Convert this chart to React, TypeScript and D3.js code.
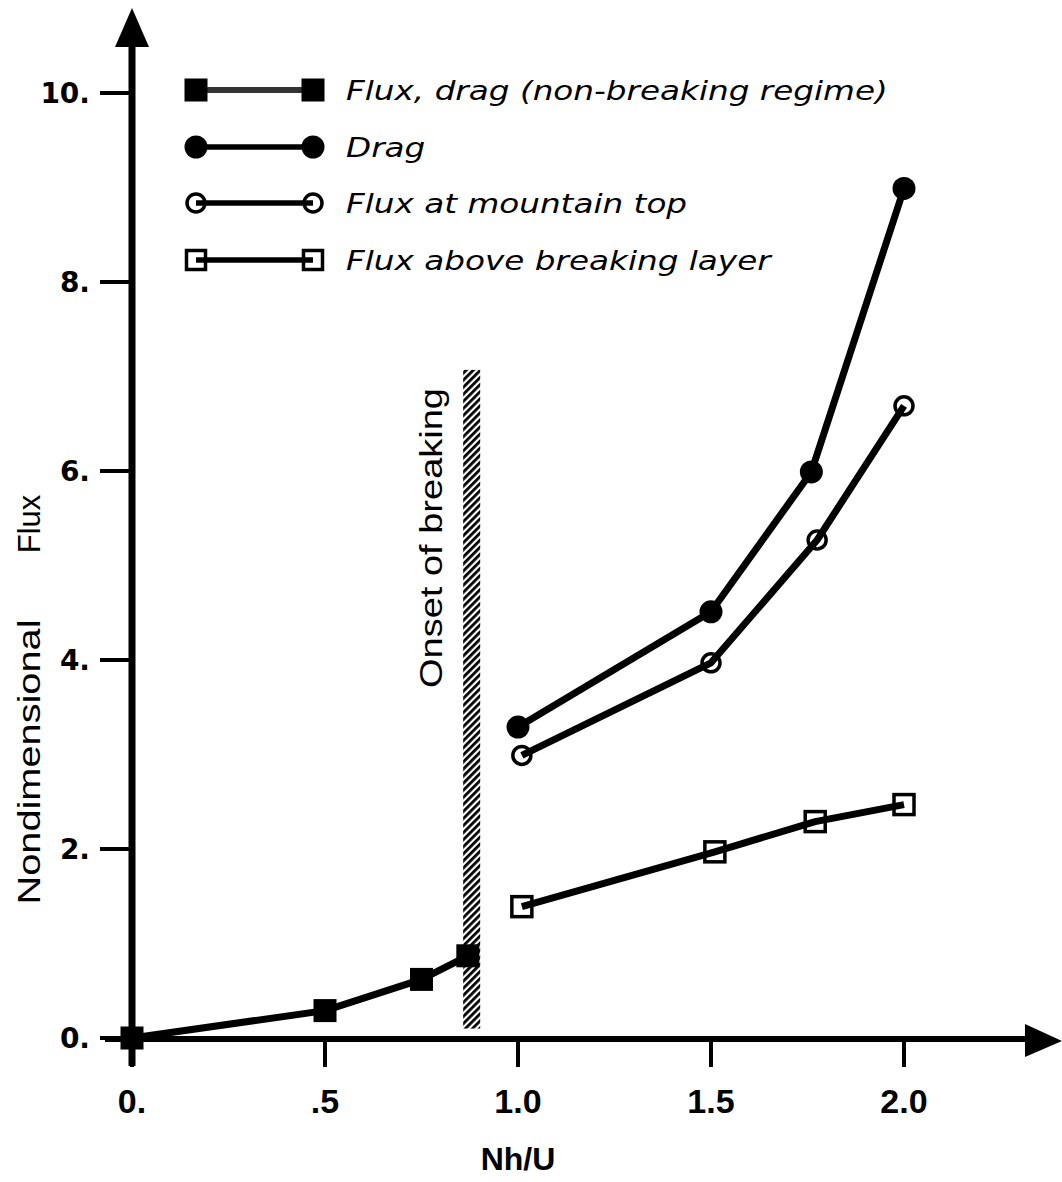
import React from 'react';
import * as d3 from 'd3';

// non-breaking regime (flux = drag)
const nonBreakX = [0, 0.5, 0.75, 0.87];
const nonBreakY = [0, 0.29, 0.62, 0.87];

// breaking regime
const dragX = [1.0, 1.5, 1.76, 2.0];
const dragY = [3.29, 4.51, 5.99, 8.99];
const topFluxX = [1.01, 1.5, 1.775, 2.0];
const topFluxY = [2.99, 3.97, 5.27, 6.69];
const aboveFluxX = [1.01, 1.51, 1.77, 2.0];
const aboveFluxY = [1.39, 1.97, 2.29, 2.47];

const onsetX = 0.88;
const onsetRange = [0.1, 7.07];

const xTicks = [0, 0.5, 1.0, 1.5, 2.0];
const xTickLabels = ['0.', '.5', '1.0', '1.5', '2.0'];
const yTicks = [0, 2, 4, 6, 8, 10];
const yTickLabels = ['0.', '2.', '4.', '6.', '8.', '10.'];

const legendLabels = [
  'Flux, drag (non-breaking regime)',
  'Drag',
  'Flux at mountain top',
  'Flux above breaking layer',
];

const W = 1062;
const H = 1182;

const x = d3.scaleLinear().domain([0, 2]).range([132, 904]);
const y = d3.scaleLinear().domain([0, 10]).range([1038, 93]);

const toPts = (xs: number[], ys: number[]) => xs.map((v, i) => [x(v), y(ys[i])] as [number, number]);

const line = d3.line();

const Marker = ({ kind, cx, cy, big = true }: { kind: string; cx: number; cy: number; big?: boolean }) => {
  if (kind === 'fsq') {
    const s = 23;
    return <rect x={cx - s / 2} y={cy - s / 2} width={s} height={s} fill="#000" />;
  }
  if (kind === 'fci') return <circle cx={cx} cy={cy} r={11.5} fill="#000" />;
  if (kind === 'oci') return <circle cx={cx} cy={cy} r={9} fill="none" stroke="#000" strokeWidth={3.5} />;
  const s = big ? 20 : 19;
  return <rect x={cx - s / 2} y={cy - s / 2} width={s} height={s} fill="none" stroke="#000" strokeWidth={3.5} />;
};

const Series = ({ xs, ys, kind }: { xs: number[]; ys: number[]; kind: string }) => {
  const pts = toPts(xs, ys);
  return (
    <g>
      <path d={line(pts) || ''} fill="none" stroke="#000" strokeWidth={7} strokeLinejoin="round" />
      {pts.map((p, i) => (
        <Marker key={i} kind={kind} cx={p[0]} cy={p[1]} />
      ))}
    </g>
  );
};

const App = () => {
  const kinds = ['fsq', 'fci', 'oci', 'osq'];
  const legendRows = [90, 147, 203, 260];
  const axisY = y(0) + 1;
  const axisX = x(0);

  return (
    <svg width={W} height={H} style={{ position: 'absolute', left: 0, top: 0, background: '#fff' }}>
      <defs>
        <pattern id="hatch" width="5" height="5" patternUnits="userSpaceOnUse" patternTransform="rotate(-45)">
          <rect width="5" height="5" fill="#fff" />
          <rect width="5" height="2.8" fill="#000" />
        </pattern>
      </defs>
      <rect width={W} height={H} fill="#fff" />

      {/* y axis */}
      <line x1={axisX} x2={axisX} y1={1066} y2={40} stroke="#000" strokeWidth={7} />
      <path d={`M${axisX},8 L${axisX - 17},47 L${axisX + 17},47 Z`} fill="#000" />
      {yTicks.map((t, i) => (
        <g key={t}>
          <line x1={100} x2={axisX} y1={y(t)} y2={y(t)} stroke="#000" strokeWidth={4} />
          <text
            x={90}
            y={y(t) + 10}
            textAnchor="end"
            fontFamily="DejaVu Sans"
            fontWeight="bold"
            fontSize={28}
          >
            {yTickLabels[i]}
          </text>
        </g>
      ))}

      {/* x axis */}
      <line x1={105} x2={1030} y1={axisY} y2={axisY} stroke="#000" strokeWidth={6} />
      <path d={`M1062,${axisY + 2} L1025,${axisY - 15} L1025,${axisY + 18} Z`} fill="#000" />
      {xTicks.map((t, i) => (
        <g key={t}>
          <line x1={x(t)} x2={x(t)} y1={axisY} y2={1067} stroke="#000" strokeWidth={4} />
          <text
            x={x(t)}
            y={1113}
            textAnchor="middle"
            fontFamily="Liberation Sans Narrow, Liberation Sans"
            fontWeight="bold"
            fontSize={34}
          >
            {xTickLabels[i]}
          </text>
        </g>
      ))}

      {/* axis titles */}
      <text x={518} y={1170} textAnchor="middle" fontFamily="Liberation Sans Narrow, Liberation Sans" fontWeight="bold" fontSize={32}>
        Nh/U
      </text>
      <text
        transform={`translate(40,762) rotate(-90)`}
        textAnchor="middle"
        fontFamily="Liberation Sans Narrow, Liberation Sans"
        fontSize={31}
        textLength={285}
        lengthAdjust="spacingAndGlyphs"
      >
        Nondimensional
      </text>
      <text
        transform={`translate(40,524) rotate(-90)`}
        textAnchor="middle"
        fontFamily="Liberation Sans Narrow, Liberation Sans"
        fontSize={31}
      >
        Flux
      </text>

      {/* onset of breaking */}
      <rect
        x={x(onsetX) - 8.5}
        y={y(onsetRange[1])}
        width={17}
        height={y(onsetRange[0]) - y(onsetRange[1])}
        fill="url(#hatch)"
      />
      <text
        transform={`translate(442,538) rotate(-90)`}
        textAnchor="middle"
        fontFamily="Liberation Sans Narrow, Liberation Sans"
        fontSize={31}
        textLength={300}
        lengthAdjust="spacingAndGlyphs"
      >
        Onset of breaking
      </text>

      {/* series */}
      <Series xs={nonBreakX} ys={nonBreakY} kind="fsq" />
      <Series xs={dragX} ys={dragY} kind="fci" />
      <Series xs={topFluxX} ys={topFluxY} kind="oci" />
      <Series xs={aboveFluxX} ys={aboveFluxY} kind="osq" />

      {/* legend */}
      {legendLabels.map((lab, i) => {
        const ly = legendRows[i];
        return (
          <g key={lab}>
            <line
              x1={196}
              x2={313}
              y1={ly}
              y2={ly}
              stroke={i === 0 ? '#333' : '#000'}
              strokeWidth={i === 0 ? 6 : 5.5}
            />
            <Marker kind={kinds[i]} cx={196} cy={ly} big={false} />
            <Marker kind={kinds[i]} cx={313} cy={ly} big={false} />
            <text
              transform={`translate(346,${ly + 10}) scale(1.21,1)`}
              fontFamily="DejaVu Sans"
              fontStyle="italic"
              fontSize={27}
            >
              {lab}
            </text>
          </g>
        );
      })}
    </svg>
  );
};

export default App;
